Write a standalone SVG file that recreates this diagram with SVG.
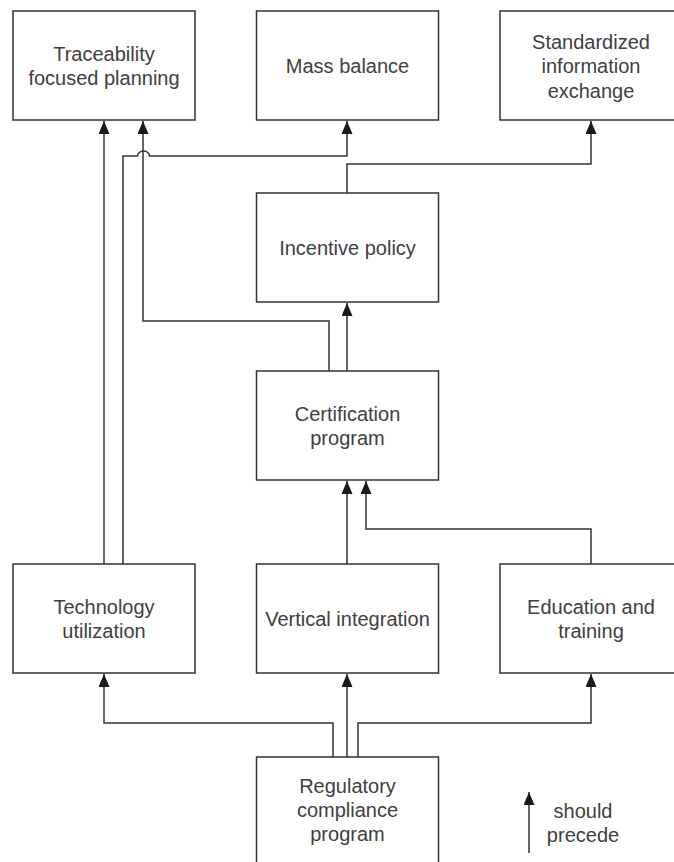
<svg xmlns="http://www.w3.org/2000/svg" width="674" height="862" viewBox="0 0 674 862">
<style>
.box{fill:#fff;stroke:#333;stroke-width:1.5}
.t{font-family:"Liberation Sans",Arial,sans-serif;font-size:20px;fill:#404040;text-anchor:middle}
.c{fill:none;stroke:#333;stroke-width:1.5}
</style>
<defs>
<marker id="ah" markerUnits="userSpaceOnUse" markerWidth="13" markerHeight="11" refX="13" refY="5.5" orient="auto" viewBox="0 0 13 11">
<path d="M0,0 L13,5.5 L0,11 z" fill="#1a1a1a"/>
</marker>
</defs>
<rect width="674" height="862" fill="#fff"/>
<g id="connectors">
<path class="c" d="M104,564 V121" marker-end="url(#ah)"/>
<path class="c" d="M123,564 V156 H137.5 A6 5 0 0 1 149.5 156 H347 V121" marker-end="url(#ah)"/>
<path class="c" d="M329,371 V321 H143 V121" marker-end="url(#ah)"/>
<path class="c" d="M347,193 V164 H591 V121" marker-end="url(#ah)"/>
<path class="c" d="M347,371 V303" marker-end="url(#ah)"/>
<path class="c" d="M347,564 V481" marker-end="url(#ah)"/>
<path class="c" d="M591,564 V529 H366 V481" marker-end="url(#ah)"/>
<path class="c" d="M333,757 V723 H104 V674" marker-end="url(#ah)"/>
<path class="c" d="M347,757 V674" marker-end="url(#ah)"/>
<path class="c" d="M358,757 V723 H591 V674" marker-end="url(#ah)"/>
</g>
<g id="traceability">
<rect class="box" x="13" y="11" width="182" height="109"/>
<text class="t" x="104" y="60.5">Traceability</text>
<text class="t" x="104" y="85">focused planning</text>
</g>
<g id="mass-balance">
<rect class="box" x="256.5" y="11" width="182" height="109"/>
<text class="t" x="347.5" y="73">Mass balance</text>
</g>
<g id="standardized">
<rect class="box" x="500" y="11" width="182" height="109"/>
<text class="t" x="591" y="48.5">Standardized</text>
<text class="t" x="591" y="73">information</text>
<text class="t" x="591" y="97.5">exchange</text>
</g>
<g id="incentive">
<rect class="box" x="256.5" y="193" width="182" height="109"/>
<text class="t" x="347.5" y="255">Incentive policy</text>
</g>
<g id="certification">
<rect class="box" x="256.5" y="371" width="182" height="109"/>
<text class="t" x="347.5" y="420.5">Certification</text>
<text class="t" x="347.5" y="445">program</text>
</g>
<g id="technology">
<rect class="box" x="13" y="564" width="182" height="109"/>
<text class="t" x="104" y="613.5">Technology</text>
<text class="t" x="104" y="638">utilization</text>
</g>
<g id="vertical">
<rect class="box" x="256.5" y="564" width="182" height="109"/>
<text class="t" x="347.5" y="626">Vertical integration</text>
</g>
<g id="education">
<rect class="box" x="500" y="564" width="182" height="109"/>
<text class="t" x="591" y="613.5">Education and</text>
<text class="t" x="591" y="638">training</text>
</g>
<g id="regulatory">
<rect class="box" x="256.5" y="757" width="182" height="109"/>
<text class="t" x="347.5" y="793">Regulatory</text>
<text class="t" x="347.5" y="817">compliance</text>
<text class="t" x="347.5" y="841">program</text>
</g>
<g id="legend">
<path class="c" d="M529,853 V792" marker-end="url(#ah)"/>
<text class="t" x="583" y="818">should</text>
<text class="t" x="583" y="842">precede</text>
</g>
</svg>
